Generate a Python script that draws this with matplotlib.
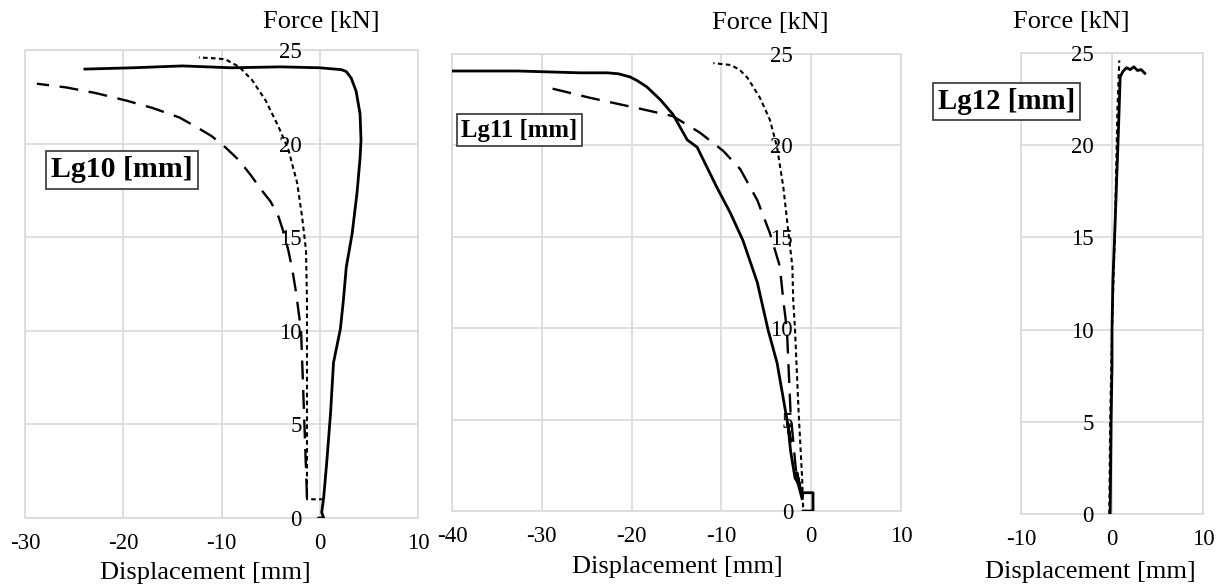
import matplotlib
matplotlib.use("Agg")
import matplotlib.pyplot as plt

plt.rcParams['font.family'] = ['Liberation Serif', 'DejaVu Serif']
plt.rcParams['axes.unicode_minus'] = False

# ---- Lg10 ----
lg10_solid_x = [-0.1, 0.4, 0.2, 0.4, 0.7, 1.1, 1.4, 2.1, 2.4, 2.7, 3.3, 3.8, 4.1, 4.2, 4.1, 3.7, 3.2, 2.7, 2.2, 0.0, -4.0, -9.0, -14.0, -19.0, -23.9]
lg10_solid_y = [0.0, 0.0, 0.3, 1.1, 2.9, 5.6, 8.3, 10.1, 11.6, 13.4, 15.2, 17.4, 19.2, 20.2, 21.6, 22.8, 23.5, 23.85, 23.95, 24.05, 24.1, 24.05, 24.15, 24.05, 23.98]
lg10_dot_x = [0.4, -1.3, -1.3, -1.3, -1.3, -1.4, -1.8, -2.3, -3.2, -4.2, -5.5, -6.9, -8.2, -9.6, -10.5, -12.3]
lg10_dot_y = [1.0, 1.0, 5.6, 10.0, 11.6, 14.3, 16.1, 17.9, 19.7, 20.9, 22.3, 23.4, 24.1, 24.5, 24.55, 24.6]
lg10_dash_x = [-1.3, -1.6, -1.9, -2.4, -2.8, -3.2, -3.7, -4.2, -5.0, -5.9, -7.0, -8.2, -9.6, -11.0, -12.6, -14.3, -17.0, -19.7, -22.8, -25.8, -28.8]
lg10_dash_y = [1.1, 5.6, 10.0, 12.0, 13.3, 14.3, 15.3, 16.1, 16.9, 17.5, 18.3, 19.1, 19.8, 20.4, 20.9, 21.4, 21.9, 22.3, 22.7, 23.0, 23.2]

# ---- Lg11 ----
lg11_solid_x = [-0.9, 0.2, 0.2, -0.9, -1.0, -1.6, -1.3, -1.8, -2.3, -2.6, -2.3, -2.7, -3.8, -4.8, -6.0, -7.6, -9.0, -10.5, -11.6, -12.7, -13.8, -15.4, -16.8, -18.3, -19.4, -20.2, -21.5, -22.7, -25.7, -32.7, -40.0]
lg11_solid_y = [0.0, 0.0, 1.0, 1.0, 0.8, 2.1, 1.4, 1.8, 3.3, 4.8, 3.8, 5.0, 8.1, 9.9, 12.5, 14.8, 16.3, 17.7, 18.8, 19.9, 20.3, 21.7, 22.5, 23.2, 23.55, 23.75, 23.92, 23.97, 23.97, 24.07, 24.07]
lg11_dot_x = [-0.9, -1.0, -1.4, -1.8, -2.0, -2.1, -2.6, -3.1, -3.8, -4.6, -5.7, -7.1, -8.0, -9.0, -10.9]
lg11_dot_y = [0.2, 1.7, 5.4, 9.9, 11.5, 13.4, 15.5, 17.7, 19.9, 21.4, 22.6, 23.7, 24.15, 24.4, 24.5]
lg11_dash_x = [-1.0, -1.6, -2.3, -2.7, -3.1, -3.5, -4.6, -6.0, -7.9, -9.8, -12.4, -15.4, -19.0, -24.6, -29.6]
lg11_dash_y = [0.6, 1.7, 5.4, 9.9, 11.5, 13.4, 15.2, 17.0, 18.7, 19.7, 20.7, 21.6, 22.0, 22.6, 23.2]

# ---- Lg12 ----
lg12_solid_x = [-0.2, -0.1, 0.0, 0.0, 0.1, 0.3, 0.7, 0.9, 1.2, 1.6, 2.0, 2.4, 2.8, 3.2, 3.6]
lg12_solid_y = [0.0, 5.0, 8.0, 10.0, 12.7, 15.2, 20.7, 23.7, 24.0, 24.2, 24.1, 24.25, 24.05, 24.1, 23.9]
lg12_dot_x = [-0.3, -0.2, 0.0, 0.3, 0.6, 0.8]
lg12_dot_y = [0.0, 5.0, 10.0, 15.0, 22.0, 24.6]

yticks = [0, 5, 10, 15, 20, 25]

panels = [
    dict(name='Lg10 [mm]', xlim=(-30, 10), xticks=[-30, -20, -10, 0, 10],
         rect=[25/1223, 1-518/588, 393/1223, 468/588],
         solid=(lg10_solid_x, lg10_solid_y), dot=(lg10_dot_x, lg10_dot_y), dash=(lg10_dash_x, lg10_dash_y),
         box=(0.247, 0.744, 21.5), ylab=(0.755, 1.060), xlab=(0.458, -0.1175)),
    dict(name='Lg11 [mm]', xlim=(-40, 10), xticks=[-40, -30, -20, -10, 0, 10],
         rect=[452/1223, 1-511/588, 449/1223, 457/588],
         solid=(lg11_solid_x, lg11_solid_y), dot=(lg11_dot_x, lg11_dot_y), dash=(lg11_dash_x, lg11_dash_y),
         box=(0.150, 0.833, 17.8), ylab=(0.708, 1.068), xlab=(0.503, -0.1225)),
    dict(name='Lg12 [mm]', xlim=(-10, 10), xticks=[-10, 0, 10],
         rect=[1021/1223, 1-514/588, 182/1223, 461/588],
         solid=(lg12_solid_x, lg12_solid_y), dot=(lg12_dot_x, lg12_dot_y), dash=None,
         box=(-0.080, 0.895, 20.8), ylab=(0.275, 1.067), xlab=(0.379, -0.126)),
]

fig = plt.figure(figsize=(12.23, 5.88), dpi=100)
grid_c = '#d9d9d9'

for p in panels:
    ax = fig.add_axes(p['rect'])
    ax.set_xlim(*p['xlim'])
    ax.set_ylim(0, 25)
    ax.set_xticks(p['xticks'])
    ax.set_yticks(yticks)
    ax.grid(True, color=grid_c, lw=1.2)
    ax.set_axisbelow(True)
    for s in ax.spines.values():
        s.set_visible(False)
    # y labels sit next to the x=0 line, like Excel's crossing axis
    ax.spines['left'].set_position(('data', 0))
    ax.patch.set_edgecolor(grid_c)
    ax.patch.set_linewidth(1.2)
    ax.tick_params(axis='both', length=0, labelsize=16.5)
    ax.tick_params(axis='y', pad=13)
    ax.tick_params(axis='x', pad=11)

    ax.plot(*p['solid'], color='black', lw=2.0, solid_joinstyle='round')
    ax.plot(*p['dot'], color='black', lw=1.5, linestyle=(0, (2.2, 1.6)))
    if p['dash'] is not None:
        ax.plot(*p['dash'], color='black', lw=1.7, linestyle=(0, (8, 4.5)))

    ax.set_xlabel('Displacement [mm]', fontsize=19)
    ax.xaxis.set_label_coords(*p['xlab'])
    ax.xaxis.label.set_va('center')
    ax.text(p['ylab'][0], p['ylab'][1], 'Force [kN]', transform=ax.transAxes,
            ha='center', va='center', fontsize=19, clip_on=False)
    bx, by, bs = p['box']
    ax.text(bx, by, p['name'], transform=ax.transAxes, ha='center', va='center',
            fontsize=bs, fontweight='bold', clip_on=False, zorder=5,
            bbox=dict(boxstyle='square,pad=0.18', facecolor='white', edgecolor='#333333', lw=1.2))

fig.savefig('out.png', dpi=100)
